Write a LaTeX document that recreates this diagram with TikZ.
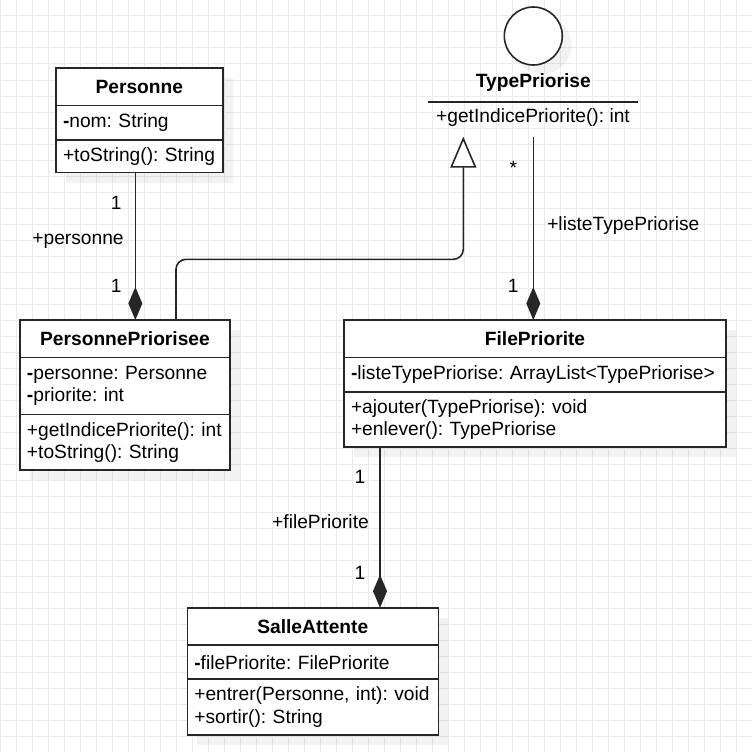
\documentclass[tikz,border=0pt]{standalone}
\usepackage{fontspec}
\setmainfont{Liberation Sans}
\usetikzlibrary{arrows.meta, backgrounds, calc, positioning}
\definecolor{linec}{HTML}{262626}
\definecolor{gridc}{HTML}{EBEBEB}
\newcommand\umlsize{\fontsize{19.2pt}{22.5pt}\selectfont\frenchspacing}

\tikzset{
  cname/.style={draw=linec, line width=1.6pt, fill=white, font=\umlsize\bfseries,
    anchor=north west, minimum width=#1, minimum height=37.5pt, inner sep=0pt, outer sep=0pt},
  cpart/.style={draw=linec, line width=1.6pt, fill=white, anchor=north west,
    align=left, text width=#1, inner xsep=7pt, inner ysep=0pt, outer sep=0pt},
  shade/.style={fill=black, fill opacity=0.05},
  mult/.style={inner sep=0pt},
  compo/.style={draw=linec, line width=1.6pt, -{Diamond[length=33pt, width=14pt]}},
  realize/.style={draw=linec, line width=1.6pt, rounded corners=10pt,
    -{Triangle[open, length=31pt, width=26pt, fill=white]}},
}

\begin{document}
\begin{tikzpicture}[x=1pt, y=-1pt, font=\umlsize, text=black]
\useasboundingbox (0,0) rectangle (752,752);

% grid
\begin{scope}[on background layer]
\foreach \g in {0,16,...,752} {
  \draw[gridc, line width=1pt] (\g,0) -- (\g,752);
  \draw[gridc, line width=1pt] (0,\g) -- (752,\g);
}
\end{scope}

% Personne
\node[cname=166.7pt] (pers-n) at (56,68) {Personne};
\node[cpart=152.7pt, minimum height=34.3pt] (pers-a) at (pers-n.south west) {\textbf{-}nom: String};
\node[cpart=152.7pt, minimum height=32.7pt] (pers-m) at (pers-a.south west) {+toString(): String};

% PersonnePriorisee
\node[cname=210pt] (pp-n) at (20,320) {PersonnePriorisee};
\node[cpart=196pt, minimum height=57pt] (pp-a) at (pp-n.south west)
  {\textbf{-}personne: Personne\\\textbf{-}priorite: int};
\node[cpart=196pt, minimum height=55.7pt] (pp-m) at (pp-a.south west)
  {+getIndicePriorite(): int\\+toString(): String};

% FilePriorite
\node[cname=382pt] (fp-n) at (344,320) {FilePriorite};
\node[cpart=368pt, minimum height=34.4pt] (fp-a) at (fp-n.south west)
  {\textbf{-}listeTypePriorise: ArrayList<TypePriorise>};
\node[cpart=368pt, minimum height=55pt] (fp-m) at (fp-a.south west)
  {+ajouter(TypePriorise): void\\+enlever(): TypePriorise};

% SalleAttente
\node[cname=251pt] (sa-n) at (187.3,607.7) {SalleAttente};
\node[cpart=237pt, minimum height=34pt] (sa-a) at (sa-n.south west) {\textbf{-}filePriorite: FilePriorite};
\node[cpart=237pt, minimum height=55.7pt] (sa-m) at (sa-a.south west)
  {+entrer(Personne, int): void\\+sortir(): String};

% TypePriorise (interface)
\node[draw=linec, line width=1.6pt, circle, fill=white, minimum size=58pt, inner sep=0pt] (tp-c) at (533.3,36) {};
\node[font=\umlsize\bfseries] (tp-n) at (533.3,83) {TypePriorise};
\node[minimum width=210pt, minimum height=30pt, inner sep=0pt] (tp-m) at (533,117.3) {+getIndicePriorite(): int};
\draw[linec, line width=1.6pt] (tp-m.north west) -- (tp-m.north east);
\coordinate (tp-end) at (463.3,136.7);

% shadows
\begin{scope}[on background layer]
  \fill[shade] ($(pers-n.north west)+(10,10)$) rectangle ($(pers-m.south east)+(10,10)$);
  \fill[shade] ($(pp-n.north west)+(10,10)$) rectangle ($(pp-m.south east)+(10,10)$);
  \fill[shade] ($(fp-n.north west)+(10,10)$) rectangle ($(fp-m.south east)+(10,10)$);
  \fill[shade] ($(sa-n.north west)+(10,10)$) rectangle ($(sa-m.south east)+(10,10)$);
  \fill[shade] ($(tp-c.center)+(9,9)$) circle[radius=29];
\end{scope}

% connectors
\draw[compo] ([xshift=-4pt]pers-m.south) -- ([xshift=-4pt]pers-m.south |- pp-n.north);
\draw[realize] ([xshift=51pt]pp-n.north) -- ++(0,-60.7) -| (tp-end);
\draw[compo] (tp-c |- tp-end) -- (tp-c |- fp-n.north);
\draw[compo] ([xshift=-155pt]fp-m.south) -- ([xshift=-155pt]fp-m.south |- sa-n.north);

% labels
\node[mult] (l-pers1) at (116.3,203.3) {1};
\node[mult] (l-pers) at (78,240.7) {+personne};
\node[mult] (l-pers2) at (116.3,285.7) {1};
\node[mult] (l-tp1) at (513.3,168) {*};
\node[mult] (l-tp) at (623.3,225.7) {+listeTypePriorise};
\node[mult] (l-tp2) at (513.3,285.7) {1};
\node[mult] (l-fp1) at (360,477.3) {1};
\node[mult] (l-fp) at (320.5,521.7) {+filePriorite};
\node[mult] (l-fp2) at (360,573.3) {1};
\end{tikzpicture}
\end{document}
